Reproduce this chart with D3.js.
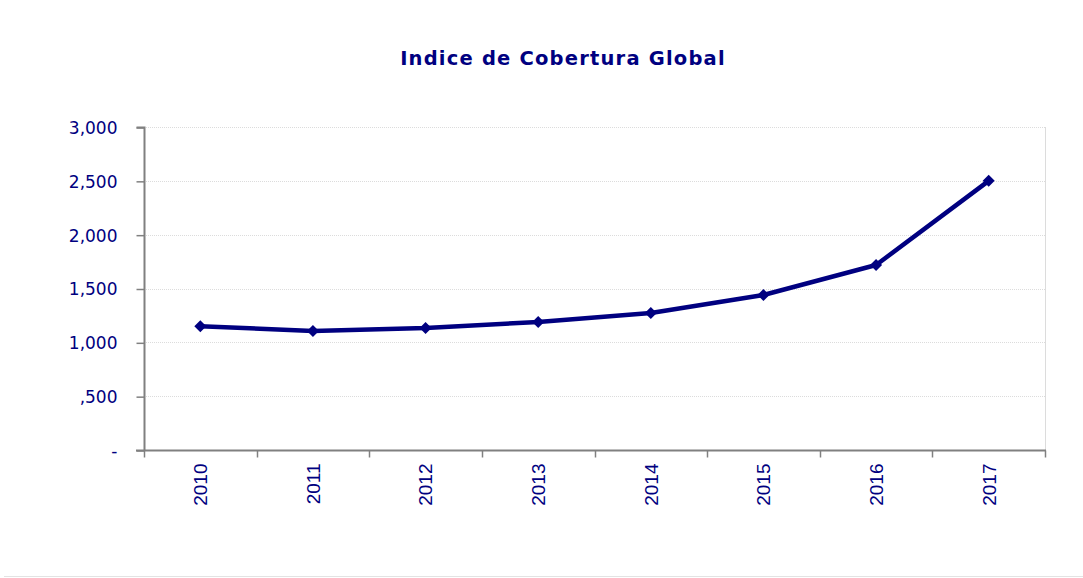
<!DOCTYPE html>
<html><head><meta charset="utf-8">
<script src="https://cdn.jsdelivr.net/npm/d3@7"></script>
<style>body{margin:0;background:#fff}</style>
</head><body>
<svg id="c" width="1083" height="578"></svg>
<script>
const categories = ["2010","2011","2012","2013","2014","2015","2016","2017"];
const values = [1150, 1105, 1133, 1189, 1272, 1440, 1718, 2500];
const yTicks = [0, 500, 1000, 1500, 2000, 2500, 3000];
const yTickLabels = ["-", ",500", "1,000", "1,500", "2,000", "2,500", "3,000"];
const title = "Indice de Cobertura Global";

const navy = "#000080";
const svg = d3.select("#c");
const m = {left:144, right:1045, top:127, bottom:450};
const x = d3.scaleBand().domain(categories).range([m.left, m.right]);
const y = d3.scaleLinear().domain([0,3000]).range([m.bottom, m.top]);

// bottom separator line
svg.append("line").attr("x1",4).attr("x2",1083).attr("y1",576.5).attr("y2",576.5)
  .attr("stroke","#e3e3e3").attr("stroke-width",1);

// title
svg.append("text").attr("x",563).attr("y",65).attr("text-anchor","middle")
  .attr("font-family","Verdana, 'DejaVu Sans', sans-serif").attr("font-weight","bold")
  .attr("font-size",19.5).attr("letter-spacing","1.2px").attr("fill",navy).text(title);

// gridlines
svg.append("g").selectAll("line").data(yTicks.filter(d=>d>0)).join("line")
  .attr("x1",m.left).attr("x2",m.right)
  .attr("y1",d=>Math.round(y(d))+0.5).attr("y2",d=>Math.round(y(d))+0.5)
  .attr("stroke","#dcdcdc").attr("stroke-dasharray","1,1");
// right border
svg.append("line").attr("x1",m.right+0.5).attr("x2",m.right+0.5).attr("y1",m.top).attr("y2",m.bottom)
  .attr("stroke","#dcdcdc");

// y axis
const yAxis = d3.axisLeft(y).tickValues(yTicks).tickSize(8).tickPadding(19)
  .tickFormat((d,i)=>yTickLabels[i]);
const gy = svg.append("g").attr("transform",`translate(${m.left+0.5},0.5)`).call(yAxis);
gy.select(".domain").attr("stroke","#808080").attr("stroke-width",2).attr("d",`M-8,${m.top}H0V${m.bottom}`);
gy.selectAll(".tick line").attr("stroke","#808080").attr("stroke-width",1.5);
gy.selectAll(".tick text").attr("fill",navy).attr("font-family","'DejaVu Sans', sans-serif")
  .attr("font-size",17).attr("dy","0.35em");

// x axis
const gx = svg.append("g").attr("transform",`translate(0,${m.bottom+0.5})`);
gx.append("line").attr("x1",m.left-8).attr("x2",m.right+1).attr("stroke","#808080").attr("stroke-width",2);
const bounds = categories.map(c=>x(c)).concat([m.right]);
gx.selectAll(".xt").data(bounds).join("line").attr("class","xt")
  .attr("x1",d=>Math.round(d)+0.5).attr("x2",d=>Math.round(d)+0.5).attr("y1",0).attr("y2",7)
  .attr("stroke","#808080").attr("stroke-width",1.5);
gx.selectAll(".xl").data(categories).join("text").attr("class","xl")
  .attr("transform",d=>`translate(${x(d)+x.bandwidth()/2},13) rotate(-90)`)
  .attr("text-anchor","end").attr("dy","0.36em").attr("fill",navy)
  .attr("font-family","Arial, 'Liberation Sans', sans-serif").attr("font-size",19)
  .text(d=>d);

// line
const line = d3.line().x((d,i)=>x(categories[i])+x.bandwidth()/2).y(d=>y(d));
svg.append("path").datum(values).attr("d",line).attr("fill","none")
  .attr("stroke",navy).attr("stroke-width",4.5).attr("stroke-linejoin","round");

// markers
svg.append("g").selectAll("path").data(values).join("path")
  .attr("transform",(d,i)=>`translate(${x(categories[i])+x.bandwidth()/2},${y(d)})`)
  .attr("d","M0,-6L6,0L0,6L-6,0Z").attr("fill",navy);
</script>
</body></html>
